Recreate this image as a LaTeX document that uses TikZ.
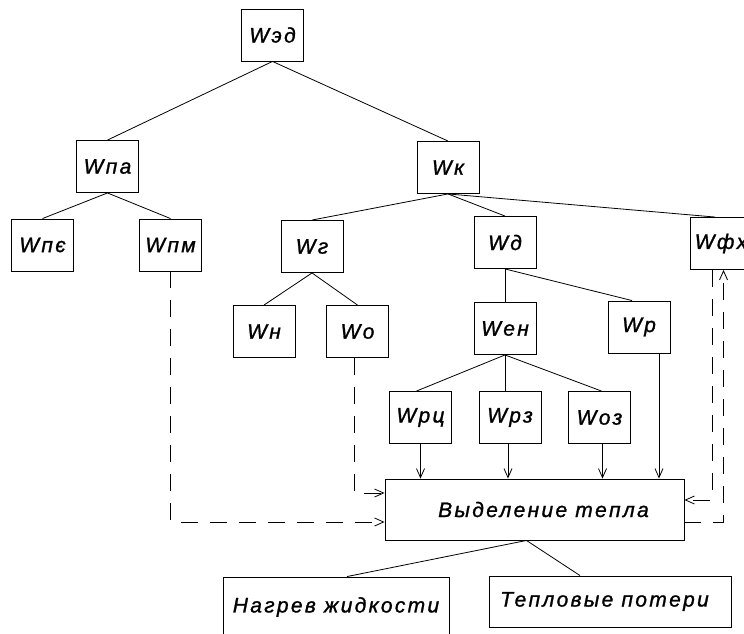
\documentclass[tikz,border=0pt]{standalone}
\usepackage{fontspec}
\newfontfamily\boxfont{Liberation Sans}[LetterSpace=11, FakeBold=1.2]
\usetikzlibrary{arrows.meta}

\begin{document}
\begin{tikzpicture}[
        x=1pt, y=-1pt, % pixel grid of the page
        font=\boxfont\itshape\fontsize{21}{24}\selectfont,
        block/.style={rectangle, draw=black, line width=0.9pt, inner sep=0pt, minimum width=62pt, minimum height=52pt, align=center},
        wide/.style={block, minimum height=61pt},
        link/.style={draw=black, line width=0.8pt},
        feed/.style={link, -{Straight Barb[length=9pt, width=8pt]}},
        dsh/.style={feed, dash pattern=on 17pt off 12pt}
    ]
    \useasboundingbox (0,0) rectangle (744,634);
    \clip (0,0) rectangle (744,634);

    % Level 0
    \node[block] (ed) at (272.5, 35) {Wэд};

    % Level 1
    \node[block] (pa) at (107.5, 166.5) {Wпа};
    \node[block] (k) at (448, 167.5) {Wк};

    % Level 2
    \node[block] (pe) at (42.5, 245) {Wпє};
    \node[block] (pm) at (170.5, 245) {Wпм};
    \node[block] (g) at (312, 246.5) {Wг};
    \node[block] (d) at (505, 242.5) {Wд};
    \node[block] (fh) at (721, 243.5) {Wфх};

    % Level 3
    \node[block] (n) at (264, 331.5) {Wн};
    \node[block] (o) at (357.5, 331.5) {Wо};
    \node[block] (en) at (505, 328.5) {Wен};
    \node[block] (r) at (639, 327) {Wр};

    % Level 4
    \node[block] (rc) at (420.5, 417.5) {Wрц};
    \node[block] (rz) at (510, 417.5) {Wрз};
    \node[block] (oz) at (599.5, 417.5) {Wоз};

    % Heat balance
    \node[wide, minimum width=299pt] (heat) at (534.5, 509.5) {\hspace*{18pt}Выделение тепла};
    \node[block, minimum width=226pt, minimum height=60pt] (liquid) at (336, 607) {Нагрев жидкости};
    \node[block, minimum width=242pt, minimum height=51pt] (loss) at (610, 601.5) {\hspace*{-11pt}Тепловые потери};

    % Tree links
    \draw[link] (ed.south) -- (pa.north);
    \draw[link] (ed.south) -- (k.north);
    \draw[link] (pa.south) -- (pe.north);
    \draw[link] (pa.south) -- (pm.north);
    \draw[link] (k.south) -- (g.north);
    \draw[link] (k.south) -- (d.north);
    \draw[link] (k.south) -- ([xshift=-6pt]fh.north);
    \draw[link] (g.south) -- (n.north);
    \draw[link] (g.south) -- (o.north);
    \draw[link] (d.south) -- (en.north);
    \draw[link] (d.south) -- ([xshift=-7pt]r.north);
    \draw[link] (en.south) -- ([xshift=-4pt]rc.north);
    \draw[link] (en.south) -- (en.south |- rz.north);
    \draw[link] (en.south) -- ([xshift=2pt]oz.north);

    % Feeds into heat release
    \draw[feed] (rc.south) -- (rc.south |- heat.north);
    \draw[feed] ([xshift=-2pt]rz.south) -- ([xshift=-2pt]rz.south |- heat.north);
    \draw[feed] ([xshift=3pt]oz.south) -- ([xshift=3pt]oz.south |- heat.north);
    \draw[feed] ([xshift=20pt]r.south) -- ([xshift=20pt]r.south |- heat.north);

    % Dashed feedback
    \draw[dsh] (pm.south) |- ([yshift=-12.5pt]heat.west);
    \draw[dsh] ([xshift=-3.5pt]o.south) |- ([yshift=16.5pt]heat.west);
    \draw[dsh] ([yshift=-12.5pt]heat.east) -| ([xshift=2.5pt]fh.south);
    \draw[dsh] ([xshift=-9pt]fh.south) |- ([yshift=9.5pt]heat.east);

    % Outputs
    \draw[link] ([xshift=-8pt]heat.south) -- ([xshift=11pt]liquid.north);
    \draw[link] ([xshift=-8pt]heat.south) -- ([xshift=-30pt]loss.north);

\end{tikzpicture}
\end{document}
